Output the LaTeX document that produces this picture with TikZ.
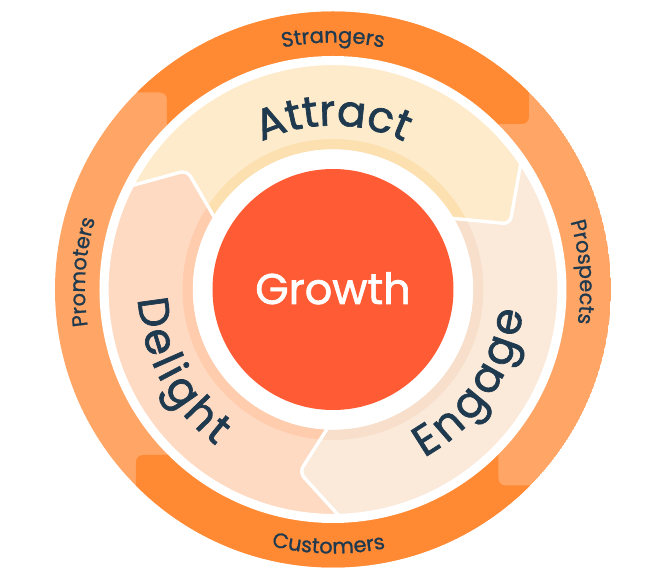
\documentclass[tikz,border=0pt]{standalone}
\usepackage{fontspec}
\usetikzlibrary{decorations.text}
\newfontfamily\wordfont{Poppins}[FakeBold=1.6]
\newfontfamily\smallfont{Poppins}[FakeBold=1.0]
\definecolor{ink}{HTML}{1F3A4F}
\definecolor{ringdark}{HTML}{FF8A33}
\definecolor{ringlight}{HTML}{FFA666}
\definecolor{growthred}{HTML}{FF5C35}
\definecolor{attractc}{HTML}{FEEBCB}
\definecolor{attracts}{HTML}{FDE0B0}
\definecolor{engagec}{HTML}{FBEADA}
\definecolor{engages}{HTML}{F7DFCB}
\definecolor{delightc}{HTML}{FFDAC2}
\definecolor{delights}{HTML}{FFCDAE}
\newcommand{\bigw}{\color{ink}\wordfont\fontsize{43}{43}\selectfont}
\newcommand{\smallw}{\color{ink}\smallfont\fontsize{21}{21}\selectfont}
\newcommand{\petal}[3]{%
  \fill[#2] #1;
  \begin{scope}
    \clip #1;
    \draw[#3,line width=11pt] (0,0) circle (145);
  \end{scope}
  \draw[white,line width=3.2pt,line join=round] #1;
}
\newcommand{\curveword}[5]{% format, text, radius, start, end
  \path[decorate,decoration={text along path,text={|#1|#2},text align=center}]
    (#4:#3) arc[start angle=#4,end angle=#5,radius=#3];
}
\tikzset{
  corner/.style={rounded corners=7pt},
}
\begin{document}
\begin{tikzpicture}[x=1pt,y=1pt]
\useasboundingbox (-333,-288.5) rectangle (332,289.5);
\fill[white] (-333,-288.5) rectangle (332,289.5);
% outer ring
\begin{scope}
  \clip (0,0) circle (278);
  \fill[ringlight] (0,0) circle (278);
  \fill[ringdark] (-300,300) -- (-300,197) [corner] -- (-166,197) [sharp corners] -- (-166,100) -- (0,100) [corner] -- (0,165.5) -- (196,165.5) [corner] -- (196,300) [sharp corners] -- cycle;
  \fill[ringdark] (-197,-300) [corner] -- (-197,-165.5) [sharp corners] -- (0,-165.5) -- (0,-165.5) -- (0,-100) -- (165.5,-100) [corner] -- (165.5,-196) [sharp corners] -- (300,-196) -- (300,-300) -- cycle;
\end{scope}
\fill[white] (0,0) circle (233.5);
% petals
\petal{(152.6:226) arc[start angle=152.6,end angle=33.8,radius=226] [corner] -- (177,65.5) [sharp corners] -- (30.9:138.5) arc[start angle=30.9,end angle=148.8,radius=138.5] [corner] -- (-146,119) [sharp corners] -- cycle}{attractc}{attracts}
\petal{(33.8:226) arc[start angle=33.8,end angle=-88.6,radius=226] [corner] -- (-33.7,-182.8) [sharp corners] -- (267.8:138.5) arc[start angle=-92.2,end angle=30.9,radius=138.5] [corner] -- (177,65.5) [sharp corners] -- cycle}{engagec}{engages}
\petal{(271.4:226) arc[start angle=271.4,end angle=152.6,radius=226] [corner] -- (-146,119) [sharp corners] -- (148.8:138.5) arc[start angle=148.8,end angle=267.8,radius=138.5] [corner] -- (-33.7,-182.8) [sharp corners] -- cycle}{delightc}{delights}
% centre
\fill[white] (0,0) circle (140);
\node[circle,fill=growthred,minimum size=241pt,inner sep=0pt] (growth) at (0,0) {};
\node[text=white,font=\wordfont\fontsize{43}{43}\selectfont,anchor=base] (growthlabel) at (0,-14.5) {Growth};
% words
\curveword{\bigw}{Attract}{164}{130}{50}
\curveword{\bigw}{{E\kern4pt}{n\kern4pt}{g\kern4pt}{a\kern4pt}{g\kern4pt}e}{191}{-77}{9}
\curveword{\bigw}{{D\kern3.5pt}{e\kern3.5pt}{l\kern3.5pt}{i\kern3.5pt}{g\kern3.5pt}{h\kern3.5pt}t}{195}{165}{251}
\curveword{\smallw}{Strangers}{247}{110}{70}
\curveword{\smallw}{Prospects}{247}{24}{-16}
\curveword{\smallw}{Customers}{264}{249}{289}
\curveword{\smallw}{Promoters}{248}{196}{156}
\end{tikzpicture}
\end{document}
